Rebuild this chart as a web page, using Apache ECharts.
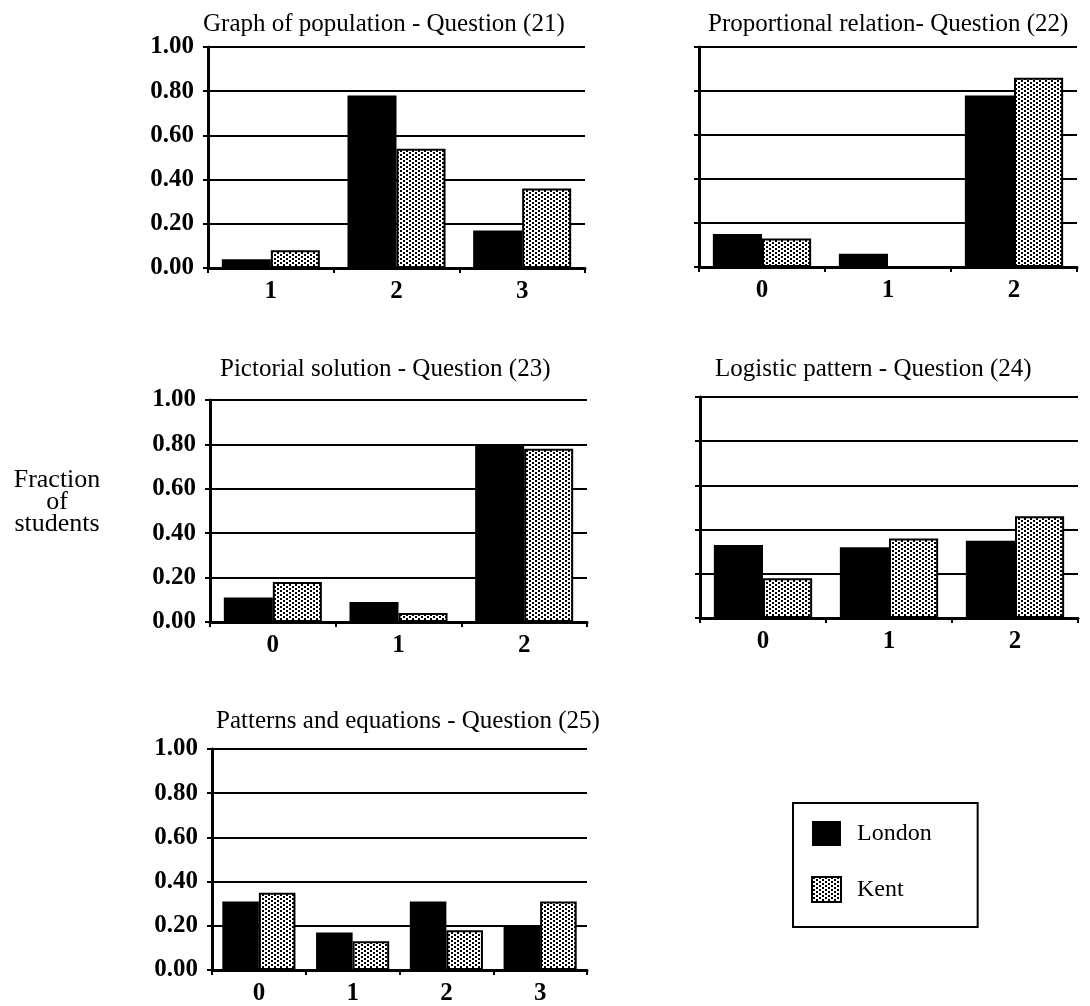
<!DOCTYPE html>
<html>
<head>
<meta charset="utf-8">
<title>Fraction of students by answer, London and Kent</title>
<script src="https://cdn.jsdelivr.net/npm/echarts@6/dist/echarts.min.js"></script>
<style>
  html, body { margin: 0; padding: 0; background: #fff; }
  #chart { width: 1090px; height: 1006px; }
</style>
</head>
<body>
<div id="chart"></div>
<script>
// ---- data: fraction of students giving each answer code ----
const titles = [
  'Graph of population - Question (21)',
  'Proportional relation- Question (22)',
  'Pictorial solution - Question (23)',
  'Logistic pattern - Question (24)',
  'Patterns and equations - Question (25)'
];
const cats21 = ['1', '2', '3'];
const london21 = [0.04, 0.78, 0.17];
const kent21 = [0.08, 0.54, 0.36];

const cats22 = ['0', '1', '2'];
const london22 = [0.15, 0.06, 0.78];
const kent22 = [0.13, 0.00, 0.86];

const cats23 = ['0', '1', '2'];
const london23 = [0.11, 0.09, 0.80];
const kent23 = [0.18, 0.04, 0.78];

const cats24 = ['0', '1', '2'];
const london24 = [0.33, 0.32, 0.35];
const kent24 = [0.18, 0.36, 0.46];

const cats25 = ['0', '1', '2', '3'];
const london25 = [0.31, 0.17, 0.31, 0.20];
const kent25 = [0.35, 0.13, 0.18, 0.31];

const yTickLabels = ['0.00', '0.20', '0.40', '0.60', '0.80', '1.00'];
const seriesNames = ['London', 'Kent'];
const yAxisTitle = 'Fraction\nof\nstudents';

// ---- styling helpers ----
const FONT = "'Liberation Serif', 'Times New Roman', serif";

// stippled fill used for the Kent bars
function dotPattern() {
  const c = document.createElement('canvas');
  c.width = 6; c.height = 4;
  const g = c.getContext('2d');
  g.fillStyle = '#fff';
  g.fillRect(0, 0, 6, 4);
  g.fillStyle = '#000';
  g.fillRect(1, 0, 2, 2);
  g.fillRect(4, 2, 2, 2);
  return { image: c, repeat: 'repeat' };
}
const kentFill = dotPattern();

const panels = [
  { cats: cats21, london: london21, kent: kent21, grid: { left: 208, top: 47, width: 377, height: 221 }, labels: true,  title: { left: 203, top: 10 } },
  { cats: cats22, london: london22, kent: kent22, grid: { left: 699, top: 47, width: 378, height: 220 }, labels: false, title: { left: 708, top: 10 } },
  { cats: cats23, london: london23, kent: kent23, grid: { left: 210, top: 400, width: 377, height: 222 }, labels: true,  title: { left: 220, top: 355 } },
  { cats: cats24, london: london24, kent: kent24, grid: { left: 700, top: 397, width: 378, height: 221 }, labels: false, title: { left: 715, top: 355 } },
  { cats: cats25, london: london25, kent: kent25, grid: { left: 212, top: 749, width: 375, height: 222 }, labels: true,  title: { left: 216, top: 707 } }
];

const option = {
  backgroundColor: '#fff',
  animation: false,
  title: panels.map((p, i) => ({
    text: titles[i],
    left: p.title.left,
    top: p.title.top,
    padding: 0,
    textStyle: { fontFamily: FONT, fontSize: 25, fontWeight: 'normal', color: '#000', lineHeight: 28 }
  })),
  legend: {
    data: seriesNames,
    orient: 'vertical',
    left: 793,
    top: 803,
    selectedMode: false,
    itemWidth: 29,
    itemHeight: 25,
    itemGap: 30,
    icon: 'rect',
    padding: [18, 46, 24, 18],
    borderColor: '#000',
    borderWidth: 2,
    textStyle: { fontFamily: FONT, fontSize: 24, color: '#000', padding: [0, 0, 0, 11] }
  },
  graphic: [{
    type: 'text',
    x: 57,
    y: 469,
    style: {
      text: yAxisTitle,
      font: '26px ' + FONT,
      fill: '#000',
      textAlign: 'center',
      align: 'center',
      textVerticalAlign: 'top',
      verticalAlign: 'top',
      lineHeight: 22
    }
  }],
  grid: panels.map(p => Object.assign({ containLabel: false }, p.grid)),
  xAxis: panels.map((p, i) => ({
    type: 'category',
    gridIndex: i,
    data: p.cats,
    axisLine: { lineStyle: { color: '#000', width: 3 } },
    axisTick: { show: true, length: 5, lineStyle: { color: '#000', width: 2 } },
    axisLabel: { fontFamily: FONT, fontSize: 25, fontWeight: 'bold', color: '#000', margin: 11 },
    splitLine: { show: false }
  })),
  yAxis: panels.map((p, i) => ({
    type: 'value',
    gridIndex: i,
    min: 0,
    max: 1,
    interval: 0.2,
    axisLine: { show: true, lineStyle: { color: '#000', width: 3 } },
    axisTick: { show: true, length: 5, lineStyle: { color: '#000', width: 2 } },
    axisLabel: {
      show: p.labels,
      fontFamily: FONT, fontSize: 25, fontWeight: 'bold', color: '#000', margin: 14,
      formatter: v => yTickLabels[Math.round(v / 0.2)]
    },
    splitLine: { show: true, lineStyle: { color: '#000', width: 2 } }
  })),
  series: panels.flatMap((p, i) => ([
    {
      name: seriesNames[0], type: 'bar', xAxisIndex: i, yAxisIndex: i,
      data: p.london, barGap: '0%', barCategoryGap: '22%',
      itemStyle: { color: '#000', borderColor: '#000', borderWidth: 0 }
    },
    {
      name: seriesNames[1], type: 'bar', xAxisIndex: i, yAxisIndex: i,
      data: p.kent, barGap: '0%', barCategoryGap: '22%',
      itemStyle: { color: kentFill, borderColor: '#000', borderWidth: 2 }
    }
  ]))
};

const chart = echarts.init(document.getElementById('chart'), null, { renderer: 'canvas' });
chart.setOption(option);
</script>
</body>
</html>
